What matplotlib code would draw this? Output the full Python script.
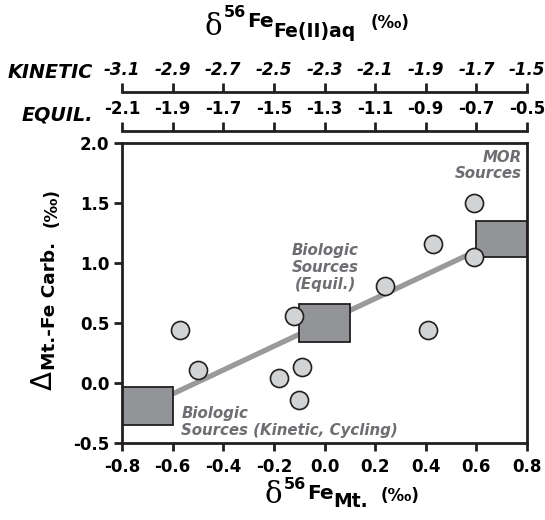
import matplotlib
matplotlib.use("Agg")
import matplotlib.pyplot as plt
from matplotlib.transforms import IdentityTransform

# ---- data ----
fe_mt = [0.59, 0.59, 0.43, 0.24, 0.41, -0.12, -0.57, -0.50, -0.09, -0.18, -0.10]
delta_mt_carb = [1.50, 1.05, 1.16, 0.81, 0.44, 0.56, 0.44, 0.11, 0.13, 0.04, -0.14]

box_x = [-0.7, 0.0, 0.7]          # box centers (δ56Fe Mt.)
box_w = [0.2, 0.2, 0.2]
box_bottom = [-0.35, 0.34, 1.05]
box_top = [-0.03, 0.66, 1.35]

trend_x = [-0.7, 0.7]
trend_y = [-0.19, 1.20]

x_ticks = [-0.8, -0.6, -0.4, -0.2, 0.0, 0.2, 0.4, 0.6, 0.8]
y_ticks = [-0.5, 0.0, 0.5, 1.0, 1.5, 2.0]
kinetic_ticks = [-3.1, -2.9, -2.7, -2.5, -2.3, -2.1, -1.9, -1.7, -1.5]
equil_ticks = [-2.1, -1.9, -1.7, -1.5, -1.3, -1.1, -0.9, -0.7, -0.5]

SANS = "DejaVu Sans"
SERIF = "DejaVu Serif"
plt.rcParams["font.family"] = SANS
plt.rcParams["font.weight"] = "bold"

W, H = 545, 520
fig = plt.figure(figsize=(W / 100, H / 100), dpi=100)

def fx(px):
    return px / W

def fy(py):
    return 1 - py / H

INK = "#231f20"

# main axes: x 122..527, y 143..443 (pixels from top)
ax = fig.add_axes([fx(122), fy(443), (527 - 122) / W, (443 - 143) / H])
ax.set_xlim(-0.8, 0.8)
ax.set_ylim(-0.5, 2.0)
for s in ax.spines.values():
    s.set_linewidth(2.0)
    s.set_color(INK)
ax.set_xticks(x_ticks)
ax.set_yticks(y_ticks)
ax.set_xticklabels([f"{v:.1f}" for v in x_ticks])
ax.set_yticklabels([f"{v:.1f}" for v in y_ticks])
ax.tick_params(axis="both", direction="out", width=2.0, color=INK,
               labelsize=12)
ax.tick_params(axis="x", length=6, pad=4.5)
ax.tick_params(axis="y", length=5.5, pad=3.5)
for lab in ax.get_xticklabels() + ax.get_yticklabels():
    lab.set_fontweight("bold")

# trend line
ax.plot(trend_x, trend_y, color="#999a9c", lw=3.8, solid_capstyle="butt", zorder=1)
# boxes
heights = [t - b for t, b in zip(box_top, box_bottom)]
ax.bar(box_x, heights, width=box_w, bottom=box_bottom, color="#929497",
       edgecolor=INK, linewidth=1.3, zorder=2)
# points
ax.plot(fe_mt, delta_mt_carb, "o", ms=13, mfc="#d1d3d4", mec=INK,
        mew=1.2, zorder=3, clip_on=False)

tcol = "#6d6e71"
akw = dict(color=tcol, fontsize=10.8, fontweight="bold", fontstyle="italic",
           linespacing=1.15)
ax.text(0.778, 1.945, "MOR\nSources", ha="right", va="top", **akw)
ax.text(0.003, 1.165, "Biologic\nSources\n(Equil.)", ha="center", va="top",
        multialignment="center", **akw)
ax.text(-0.565, -0.19, "Biologic\nSources (Kinetic, Cycling)", ha="left",
        va="top", **akw)

# secondary top scales
def top_scale(py, ticks, italic):
    a = fig.add_axes([fx(122), fy(py), (527 - 122) / W, 1e-6])
    a.set_xlim(ticks[0], ticks[-1])
    a.set_ylim(0, 1)
    a.patch.set_visible(False)
    for k in ["left", "right", "bottom"]:
        a.spines[k].set_visible(False)
    a.spines["top"].set_linewidth(2.0)
    a.spines["top"].set_color(INK)
    a.set_yticks([])
    a.xaxis.tick_top()
    a.set_xticks(ticks)
    a.set_xticklabels([f"{v:.1f}" for v in ticks])
    a.tick_params(axis="x", direction="out", length=6.5, width=2.0,
                  color=INK, labelsize=12, pad=2.5)
    for lab in a.get_xticklabels():
        lab.set_fontweight("bold")
        if italic:
            lab.set_fontstyle("italic")
    return a

top_scale(91.7, kinetic_ticks, True)
top_scale(131, equil_ticks, False)

fig.text(fx(93), fy(72), "KINETIC", ha="right", va="center", fontsize=13.8,
         fontweight="bold", fontstyle="italic")
fig.text(fx(93), fy(115), "EQUIL.", ha="right", va="center", fontsize=13.8,
         fontweight="bold", fontstyle="italic")

# rich multi-part labels
renderer = fig.canvas.get_renderer()

def rich(pieces, x, y, rotation=0):
    """pieces: (text, family, size, weight, gap_before, baseline_offset)"""
    for s, fam, size, weight, gap, off in pieces:
        if rotation == 0:
            x += gap
            t = fig.text(x, y + off, s, transform=IdentityTransform(),
                         ha="left", va="baseline", family=fam, fontsize=size,
                         fontweight=weight)
            bb = t.get_window_extent(renderer)
            x = bb.x1
        else:
            y += gap
            t = fig.text(x - off, y, s, transform=IdentityTransform(),
                         ha="left", va="baseline", family=fam, fontsize=size,
                         fontweight=weight, rotation=90,
                         rotation_mode="anchor")
            bb = t.get_window_extent(renderer)
            y = bb.y1

# title: δ56Fe Fe(II)aq (‰)
rich([
    ("δ", SERIF, 21, "normal", 0, 0),
    ("56", SANS, 11.5, "bold", 1, 18),
    ("Fe", SANS, 14.5, "bold", 1, 8),
    ("Fe(II)aq", SANS, 13.5, "bold", 0, -2),
    ("(‰)", SANS, 12, "bold", 15, 7),
], 205, H - 35)

# x label: δ56Fe Mt. (‰)
rich([
    ("δ", SERIF, 21, "normal", 0, 0),
    ("56", SANS, 11.5, "bold", 1, 14),
    ("Fe", SANS, 14.5, "bold", 1, 4),
    ("Mt.", SANS, 13.5, "bold", 0, -4),
    ("(‰)", SANS, 12, "bold", 13, 2),
], 265, H - 503)

# y label: ΔMt.-Fe Carb. (‰)
rich([
    ("Δ", SANS, 20, "normal", 0, 0),
    ("Mt.-Fe Carb.", SANS, 13.3, "bold", 1, -3),
    ("(‰)", SANS, 12, "bold", 15, -5),
], 52, H - 390, rotation=90)

fig.savefig("out.png", dpi=100)
